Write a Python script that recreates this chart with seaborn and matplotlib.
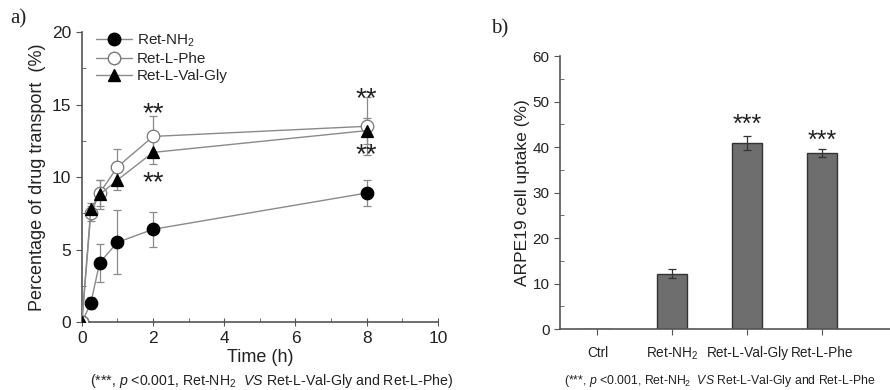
import numpy as np
import pandas as pd
import matplotlib
matplotlib.use("Agg")
import matplotlib.pyplot as plt
from matplotlib.lines import Line2D
import seaborn as sns

# panel a) data
times = [0, 0.25, 0.5, 1, 2, 8]
nh2 = [0, 1.3, 4.1, 5.5, 6.4, 8.9]
nh2_err = [0, 0.4, 1.3, 2.2, 1.2, 0.9]
phe = [0, 7.5, 8.9, 10.7, 12.8, 13.5]
phe_err = [0, 0.5, 0.9, 1.2, 1.4, 2.0]
valgly = [0, 7.8, 8.8, 9.8, 11.7, 13.2]
valgly_err = [0, 0.4, 1.0, 0.7, 0.8, 0.9]
series_names = ["Ret-NH$_2$", "Ret-L-Phe", "Ret-L-Val-Gly"]

# panel b) data
groups = ["Ctrl", "Ret-NH$_2$", "Ret-L-Val-Gly", "Ret-L-Phe"]
uptake = [0, 12.2, 40.9, 38.7]
uptake_err = [0, 1.0, 1.6, 0.9]

sns.set_style("ticks")
plt.rcParams['font.family'] = ['Liberation Sans', 'DejaVu Sans']
plt.rcParams['mathtext.fontset'] = 'custom'
plt.rcParams['mathtext.rm'] = 'Liberation Sans'
plt.rcParams['mathtext.it'] = 'Liberation Sans:italic'

txt = '#222222'
line_c = '#8a8a8a'
spine_c = '#555555'

fig = plt.figure(figsize=(8.9, 3.9), dpi=100)
ax1 = fig.add_axes([0.092, 0.174, 0.4, 0.744])
ax2 = fig.add_axes([0.629, 0.156, 0.371, 0.70])

# ---- panel a
df = pd.DataFrame({
    'time': times * 3,
    'value': nh2 + phe + valgly,
    'err': nh2_err + phe_err + valgly_err,
    'series': sum([[n] * len(times) for n in series_names], []),
})
styles = {
    "Ret-NH$_2$": dict(marker='o', mfc='black', mec='black'),
    "Ret-L-Phe": dict(marker='o', mfc='white', mec='#777777'),
    "Ret-L-Val-Gly": dict(marker='^', mfc='black', mec='black'),
}
for name in series_names:
    sub = df[df.series == name]
    st = styles[name]
    ax1.errorbar(sub.time, sub.value, yerr=sub.err, fmt='none', ecolor=line_c,
                 elinewidth=0.9, capsize=3, capthick=0.9, zorder=1)
    sns.lineplot(data=sub, x='time', y='value', ax=ax1, color=line_c, lw=1.0,
                 marker=st['marker'], markersize=9, markerfacecolor=st['mfc'],
                 markeredgecolor=st['mec'], markeredgewidth=0.9, zorder=3)

ax1.set_xlim(0, 10)
ax1.set_ylim(0, 20)
ax1.set_xticks([0, 2, 4, 6, 8, 10])
ax1.set_xticks([1, 3, 5, 7, 9], minor=True)
ax1.set_yticks([0, 5, 10, 15, 20])
ax1.set_yticks([2.5, 7.5, 12.5, 17.5], minor=True)
ax1.tick_params(axis='x', which='major', direction='inout', length=6, labelsize=12.5, colors=spine_c, labelcolor=txt)
ax1.tick_params(axis='x', which='minor', direction='in', length=3, colors=spine_c)
ax1.tick_params(axis='y', which='major', direction='out', length=4, labelsize=12.5, colors=spine_c, labelcolor=txt)
ax1.tick_params(axis='y', which='minor', direction='in', length=3, colors=spine_c)
ax1.set_xlabel("Time (h)", fontsize=13, color=txt, labelpad=2)
ax1.set_ylabel("Percentage of drug transport  (%)", fontsize=13, color=txt, labelpad=4)
sns.despine(ax=ax1)

handles = [Line2D([], [], color=line_c, lw=1.0, marker=styles[n]['marker'], markersize=9,
                  markerfacecolor=styles[n]['mfc'], markeredgecolor=styles[n]['mec'])
           for n in series_names]
ax1.legend(handles, series_names, loc='upper left', bbox_to_anchor=(0.0, 1.045), frameon=False,
           fontsize=11, handlelength=2.4, labelspacing=0.2, handletextpad=0.3)

star_kw = dict(ha='center', va='center', fontsize=20, color=txt)
ax1.text(2, 14.3, "**", **star_kw)
ax1.text(2, 9.6, "**", **star_kw)
ax1.text(8, 15.4, "**", **star_kw)
ax1.text(8, 11.5, "**", **star_kw)

fig.text(0.012, 0.94, "a)", family='Liberation Serif', fontsize=15, color=txt)
fig.text(0.305, 0.023, r"(***, $\it{p}$ <0.001, Ret-NH$_2$  $\it{VS}$ Ret-L-Val-Gly and Ret-L-Phe)",
         ha='center', va='center', fontsize=10.2, color=txt)

# ---- panel b
bdf = pd.DataFrame({'group': groups, 'uptake': uptake})
sns.barplot(data=bdf, x='group', y='uptake', order=groups, ax=ax2, color='#6e6e6e',
            edgecolor='#333333', linewidth=1.0, width=0.4, saturation=1)
ax2.errorbar(np.arange(len(groups))[1:], uptake[1:], yerr=uptake_err[1:], fmt='none',
             ecolor='#333333', elinewidth=0.9, capsize=3, capthick=0.9)
ax2.set_xlim(-0.5, 3.9)
ax2.set_ylim(0, 60)
ax2.set_yticks(range(0, 61, 10))
ax2.set_yticks(range(5, 60, 10), minor=True)
ax2.tick_params(axis='y', which='major', direction='out', length=4, labelsize=11, colors=spine_c, labelcolor=txt)
ax2.tick_params(axis='y', which='minor', direction='in', length=3, colors=spine_c)
ax2.tick_params(axis='x', which='major', direction='out', length=4, labelsize=9.8, colors=spine_c, labelcolor=txt, pad=8)
ax2.set_xlabel("")
ax2.set_ylabel("ARPE19 cell uptake (%)", fontsize=12.5, color=txt, labelpad=2)
sns.despine(ax=ax2)
for ax in (ax1, ax2):
    for s in ['left', 'bottom']:
        ax.spines[s].set_color(spine_c)
        ax.spines[s].set_linewidth(1.2)

ax2.text(2, 45.0, "***", ha='center', va='center', fontsize=18, color=txt)
ax2.text(3, 41.4, "***", ha='center', va='center', fontsize=18, color=txt)

fig.text(0.552, 0.915, "b)", family='Liberation Serif', fontsize=15, color=txt)
fig.text(0.634, 0.023, r"(***, $\it{p}$ <0.001, Ret-NH$_2$  $\it{VS}$ Ret-L-Val-Gly and Ret-L-Phe",
         ha='left', va='center', fontsize=8.8, color=txt)

fig.savefig("out.png", dpi=100)
